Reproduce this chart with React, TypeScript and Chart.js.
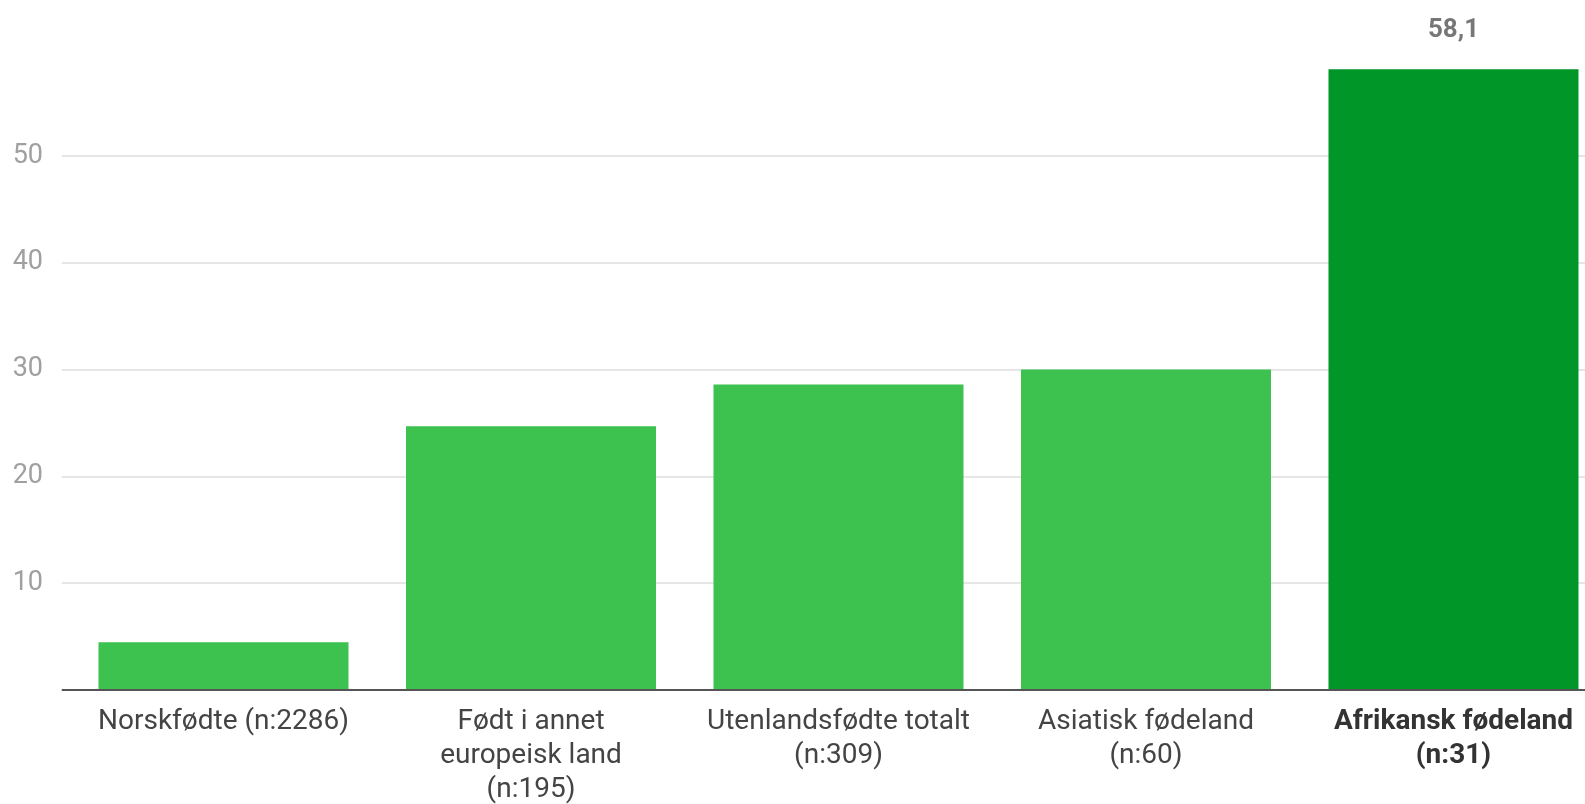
import React, { useEffect, useRef } from "react";
import { Chart, registerables } from "chart.js";

Chart.register(...registerables);

const categories: string[][] = [
  ["Norskfødte (n:2286)"],
  ["Født i annet", "europeisk land", "(n:195)"],
  ["Utenlandsfødte totalt", "(n:309)"],
  ["Asiatisk fødeland", "(n:60)"],
  ["Afrikansk fødeland", "(n:31)"],
];
const values: number[] = [4.5, 24.7, 28.6, 30.0, 58.1];
const highlighted: boolean[] = [false, false, false, false, true];
const annotated: boolean[] = [false, false, false, false, true];
const yTicks: number[] = [10, 20, 30, 40, 50];

const LIGHT = "rgb(61,194,80)";
const DARK = "rgb(0,150,40)";

const valueLabelPlugin = {
  id: "valueLabels",
  afterDatasetsDraw(chart: any) {
    const meta = chart.getDatasetMeta(0);
    const ctx = chart.ctx;
    ctx.save();
    ctx.font = "bold 26px Roboto";
    ctx.fillStyle = "#777777";
    ctx.textAlign = "center";
    ctx.textBaseline = "alphabetic";
    meta.data.forEach((bar: any, i: number) => {
      if (!annotated[i]) return;
      const txt = String(values[i]).replace(".", ",");
      ctx.fillText(txt, bar.x, bar.y - 32);
    });
    ctx.restore();
  },
};

export default function App() {
  const ref = useRef<HTMLCanvasElement>(null);
  useEffect(() => {
    if (!ref.current) return;
    const chart = new Chart(ref.current, {
      type: "bar",
      data: {
        labels: categories,
        datasets: [
          {
            data: values,
            backgroundColor: highlighted.map((h) => (h ? DARK : LIGHT)),
            borderWidth: 0,
            categoryPercentage: 1,
            barPercentage: 0.813,
          },
        ],
      },
      options: {
        animation: false,
        responsive: false,
        layout: { padding: { top: 48.9, left: 0, right: 2.75, bottom: 0 } },
        plugins: { legend: { display: false }, tooltip: { enabled: false } },
        scales: {
          x: {
            grid: { display: false, drawTicks: false },
            border: { display: true, color: "#555555", width: 2, z: 1 },
            ticks: {
              padding: 14,
              maxRotation: 0,
              autoSkip: false,
              color: (c: any) => (highlighted[c.index] ? "#333333" : "#444444"),
              font: (c: any) => ({
                family: "Roboto",
                size: 28,
                weight: highlighted[c.index] ? "bold" : "normal",
                lineHeight: 1.23,
              }),
            },
            afterFit: (s: any) => {
              s.height = 804 - 690.3;
            },
          },
          y: {
            min: 0,
            max: 60,
            border: { display: false },
            grid: {
              lineWidth: 2,
              tickLength: 8,
              color: (c: any) =>
                c.tick && (c.tick.value === 0 || c.tick.value === 60) ? "rgba(0,0,0,0)" : "#e6e6e6",
              tickColor: (c: any) =>
                c.tick && c.tick.value === 0
                  ? "#555555"
                  : c.tick && c.tick.value === 60
                  ? "rgba(0,0,0,0)"
                  : "#e6e6e6",
            },
            ticks: {
              stepSize: 10,
              padding: 18.75,
              color: "#a0a0a0",
              font: { family: "Roboto", size: 27 },
              callback: (v: any) => (yTicks.includes(Number(v)) ? String(v) : ""),
            },
            afterFit: (s: any) => {
              s.width = 69.75;
            },
          },
        },
      },
      plugins: [valueLabelPlugin],
    });
    return () => chart.destroy();
  }, []);
  return (
    <div
      style={{
        position: "fixed",
        left: 0,
        top: 0,
        width: 1585,
        height: 804,
        overflow: "hidden",
        background: "#ffffff",
      }}
    >
      <canvas ref={ref} width={1610} height={804} style={{ display: "block" }} />
    </div>
  );
}
